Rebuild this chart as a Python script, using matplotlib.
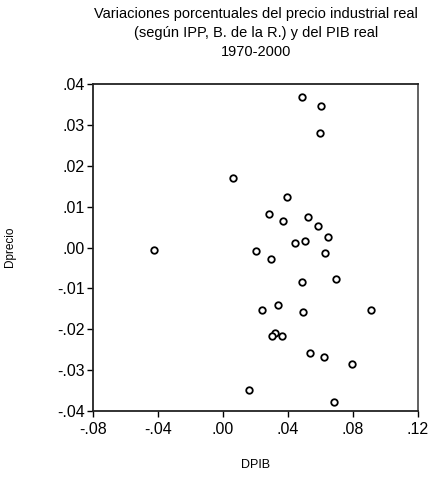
import numpy as np
import matplotlib
matplotlib.use("Agg")
from matplotlib import pyplot as plt

# Annual real growth rates 1970-2000
dpib = [-0.0425, 0.0060, 0.0484, 0.0601, 0.0599, 0.0396, 0.0281, 0.0371,
        0.0521, 0.0587, 0.0644, 0.0505, 0.0445, 0.0205, 0.0297, 0.0628,
        0.0697, 0.0488, 0.0341, 0.0242, 0.0494, 0.0911, 0.0318, 0.0304,
        0.0365, 0.0537, 0.0623, 0.0794, 0.0162, 0.0683]
dprecio = [-0.0005, 0.0171, 0.0367, 0.0346, 0.0281, 0.0124, 0.0082, 0.0064,
           0.0075, 0.0052, 0.0025, 0.0016, 0.0011, -0.0009, -0.0028, -0.0014,
           -0.0076, -0.0084, -0.0141, -0.0153, -0.0159, -0.0154, -0.0208, -0.0216,
           -0.0216, -0.0257, -0.0268, -0.0285, -0.0348, -0.0379]

xticks = [-0.08, -0.04, 0.00, 0.04, 0.08, 0.12]
yticks = [-0.04, -0.03, -0.02, -0.01, 0.00, 0.01, 0.02, 0.03, 0.04]

def fmt(v):
    s = "%.2f" % v
    return s.replace("0.", ".", 1)

plt.rcParams['font.family'] = ['Liberation Sans', 'DejaVu Sans']

W, H = 432, 483
fig = plt.figure(figsize=(W / 100, H / 100), dpi=100)
ax = fig.add_axes([93 / W, 1 - 411 / H, 325 / W, 327 / H])

ax.scatter(dpib, dprecio, s=22, facecolors="white", edgecolors="black", linewidths=1.3, zorder=3)

ax.set_xlim(-0.08, 0.12)
ax.set_ylim(-0.04, 0.04)
ax.set_xticks(xticks)
ax.set_yticks(yticks)
ax.set_xticklabels([fmt(v) for v in xticks], fontsize=11.5)
ax.set_yticklabels([fmt(v) for v in yticks], fontsize=11.5)
ax.tick_params(direction="out", length=4, width=1, pad=2)
ax.tick_params(axis="x", pad=4)
ax.tick_params(top=False, right=False)

for side in ["left", "bottom", "top"]:
    ax.spines[side].set_linewidth(1.3)
    ax.spines[side].set_color("#222222")
ax.spines["right"].set_linewidth(1.3)
ax.spines["right"].set_color("#555555")

fig.text(256 / W, 1 - 33 / H,
         "Variaciones porcentuales del precio industrial real\n(según IPP, B. de la R.) y del PIB real\n1970-2000",
         ha="center", va="center", fontsize=10.5, linespacing=1.45)
fig.text(10 / W, 1 - 247 / H, "Dprecio", rotation=90, ha="center", va="center", fontsize=8.5)
fig.text(256 / W, 1 - 465 / H, "DPIB", ha="center", va="center", fontsize=9)

plt.savefig("out.png", dpi=100)
